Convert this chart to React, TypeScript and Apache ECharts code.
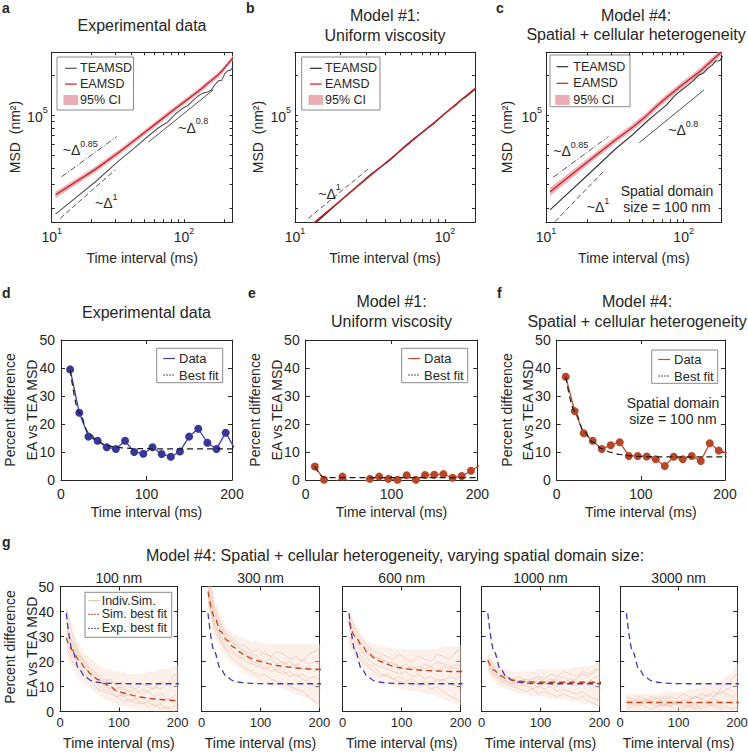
import React, { useEffect, useRef } from "react";
import * as echarts from "echarts";

const FONT = '"Liberation Sans", Arial, Helvetica, sans-serif';
const INK = "#262626";

// ---------- time grids (ms)
const tMSD = [10.7, 21.4, 32.1, 42.8, 53.5, 64.2, 74.9, 85.6, 96.3, 107.0, 117.7, 128.4, 139.1, 149.8, 160.5, 171.2, 181.9, 192.6, 203.3, 214.0, 224.7, 235.4];
const tPct = [10.7, 21.4, 32.1, 42.8, 53.5, 64.2, 74.9, 85.6, 96.3, 107.0, 117.7, 128.4, 139.1, 149.8, 160.5, 171.2, 181.9, 192.6, 203.3];

// ---------- panel a: experimental MSD (nm^2)
const eaA = [25100, 39000, 52200, 65000, 77300, 89100, 100500, 111200, 121600, 131500, 141300, 151000, 160700, 171400, 181100, 191000, 200900, 212800, 227000, 241000, 255300, 269800];
const ciLoA = [23700, 37100, 49800, 62100, 73900, 85200, 96100, 106300, 116300, 125700, 135100, 144400, 153600, 163900, 173100, 182600, 192100, 203400, 217000, 230400, 244100, 257900];
const ciHiA = [26500, 40900, 54700, 68100, 80900, 93300, 105200, 116400, 127300, 137700, 147900, 158100, 168300, 179500, 189600, 200000, 210300, 222800, 237700, 252300, 267300, 282500];
const teaA = [17990, 31480, 45190, 57020, 69180, 80170, 88100, 101200, 111200, 117800, 129100, 139300, 145900, 148300, 153100, 168700, 180700, 182000, 204200, 214800, 217300, 229600];

// ---------- panel b: model #1
const eaB = [12560, 24100, 35320, 46170, 57020, 67760, 78340, 88510, 99080, 109400, 119700, 130000, 140000, 150300, 160000];
const ciLoB = [12370, 23740, 34790, 45480, 56160, 66740, 77160, 87180, 97590, 107800, 117900, 128100, 137900, 148000, 157600];
const ciHiB = [12750, 24460, 35850, 46860, 57880, 68780, 79520, 89840, 100600, 111000, 121500, 132000, 142100, 152600, 162400];
const teaB = [11980, 24100, 35850, 45620, 57700, 68300, 78060, 87450, 98720, 109300, 118300, 130000, 137800, 147700, 157000];

// ---------- panel c: model #4
const eaC = [26420, 46880, 65010, 81280, 98400, 117200, 134600, 150700, 166700, 180700, 194500, 208400, 223900, 240400, 256400, 272300, 288400, 304800];
const ciLoC = [24570, 44300, 61430, 76810, 92990, 110800, 127200, 142400, 157500, 170800, 183800, 196900, 211600, 227200, 242300, 257300, 272500, 288000];
const ciHiC = [28400, 49600, 68780, 85990, 104100, 124000, 142400, 159400, 176400, 191200, 205800, 220500, 236900, 254300, 271300, 288100, 305100, 322500];
const teaC = [19320, 37580, 55720, 71290, 88510, 104200, 118600, 138700, 153500, 166700, 181100, 198600, 206500, 223900, 236000, 254700, 255300, 276100];

// guide lines [t, MSD]
const guideA085 = [[11.9, 34360], [31.0, 68710]];
const guideA1 = [[11.6, 16710], [30.1, 38550]];
const guideA08 = [[53.7, 62400], [166.3, 154200]];
const guideB1 = [[12.3, 16700], [31.1, 39700]];
const guideC085 = [[11.3, 34040], [28.4, 68710]];
const guideC1 = [[11.6, 15780], [26.1, 37500]];
const guideC08 = [[47.6, 61940], [140.6, 154200]];

// ---------- panels d/e/f: percent difference
const pctExp = [39.5, 24.0, 15.5, 14.0, 11.7, 11.1, 14.0, 10.0, 9.4, 11.7, 9.3, 8.3, 10.2, 15.5, 18.3, 13.3, 11.1, 16.9, 11.2];
const fitExp = [39.3, 24.0, 17.0, 13.8, 12.3, 11.7, 11.4, 11.25, 11.2, 11.15, 11.1, 11.1, 11.1, 11.1, 11.1, 11.1, 11.1, 11.1, 11.1];
const pctM1 = [4.8, 0.1, -1.5, 1.2, -1.4, -1.0, 0.4, 1.2, 0.4, 0.1, 1.7, 0.1, 1.8, 1.9, 2.1, 0.8, 1.4, 3.3, 5.3];
const fitM1 = [4.8, 0.9, 0.84, 0.83, 0.83, 0.83, 0.83, 0.83, 0.83, 0.83, 0.83, 0.83, 0.83, 0.83, 0.83, 0.83, 0.83, 0.83, 0.83];
const pctM4 = [36.9, 24.6, 16.7, 14.0, 11.1, 12.4, 13.5, 8.6, 8.6, 8.4, 7.4, 5.0, 8.3, 7.4, 8.6, 6.8, 13.1, 10.5, 9.6];
const fitM4 = [36.9, 24.6, 17.5, 13.5, 11.2, 9.9, 9.1, 8.7, 8.45, 8.35, 8.3, 8.25, 8.25, 8.25, 8.25, 8.25, 8.25, 8.25, 8.25];

// ---------- panel g: varying spatial domain size
const domainSizes = ["100 nm", "300 nm", "600 nm", "1000 nm", "3000 nm"];
const simFit100 = [29.5, 24.5, 20.5, 17.3, 14.8, 12.8, 11.2, 9.9, 8.3, 7.5, 6.8, 6.2, 5.7, 5.3, 5.0, 4.8, 4.6, 4.4, 4.3];
const simFit300 = [48, 38, 32, 28.5, 25.8, 23.8, 22.3, 21.1, 20.2, 19.5, 18.9, 18.4, 18.0, 17.7, 17.4, 17.2, 17.0, 16.9, 16.8];
const simFit600 = [36, 30, 26.5, 23.5, 21.5, 20.0, 18.9, 18.1, 17.5, 17.1, 16.8, 16.6, 16.4, 16.3, 16.2, 16.1, 16.0, 16.0, 16.0];
const simFit1000 = [20.5, 16.5, 14.3, 13.1, 12.5, 12.1, 11.9, 11.8, 11.7, 11.7, 11.7, 11.7, 11.7, 11.7, 11.7, 11.7, 11.7, 11.7, 11.7];
const simFit3000 = [3.7, 3.6, 3.6, 3.6, 3.6, 3.6, 3.6, 3.6, 3.6, 3.6, 3.6, 3.6, 3.6, 3.6, 3.6, 3.6, 3.6, 3.6, 3.6];

const sims100 = [
  [41, 30, 24, 19, 17, 15, 13, 12, 11, 12, 10, 9, 11, 10, 9, 12, 11, 14, 16],
  [34, 27, 21, 18, 14, 13, 10, 9, 8, 6, 7, 5, 6, 4, 5, 3, 5, 4, 6],
  [28, 22, 19, 15, 13, 11, 9, 8, 6, 7, 4, 5, 3, 4, 2, 3, 1, 2, 3],
  [37, 25, 22, 20, 16, 14, 12, 13, 10, 9, 8, 9, 7, 8, 6, 7, 5, 6, 8],
  [26, 20, 17, 14, 12, 9, 8, 7, 6, 4, 5, 3, 4, 2, 3, 1, 2, 0, 1],
  [32, 28, 23, 17, 15, 13, 12, 10, 9, 10, 8, 7, 9, 8, 10, 9, 11, 12, 14],
];
const bandLo100 = [22, 17, 13, 11, 9, 7, 5, 4, 3, 2, 1.5, 1, 1, 0.5, 0, 0, 0, 0, 0];
const bandHi100 = [43, 33, 27, 23, 21, 19, 17, 17, 16, 16, 15, 15, 15, 16, 16, 17, 17, 18, 19];

const sims300 = [
  [55, 42, 35, 31, 29, 27, 26, 24, 25, 23, 22, 24, 23, 21, 22, 20, 23, 24, 26],
  [50, 36, 30, 27, 24, 22, 20, 19, 18, 17, 18, 16, 15, 16, 14, 15, 13, 14, 12],
  [46, 33, 28, 24, 21, 19, 17, 16, 14, 15, 13, 12, 11, 10, 9, 8, 6, 4, 2],
  [53, 40, 34, 30, 27, 26, 23, 22, 21, 20, 21, 19, 20, 18, 19, 17, 18, 16, 17],
  [49, 38, 33, 29, 28, 25, 24, 23, 22, 24, 22, 21, 19, 20, 18, 21, 19, 20, 18],
  [44, 35, 29, 25, 23, 21, 22, 20, 19, 18, 16, 17, 16, 14, 15, 13, 12, 10, 9],
];
const bandLo300 = [42, 31, 25, 21, 19, 17, 15, 14, 12, 11, 10, 10, 9, 8, 7, 6, 5, 3, 1];
const bandHi300 = [56, 45, 38, 34, 31, 30, 29, 28, 28, 27, 27, 27, 27, 27, 27, 27, 27, 27, 27];

const sims600 = [
  [39, 33, 29, 26, 24, 23, 22, 21, 23, 21, 20, 22, 21, 20, 23, 22, 21, 24, 25],
  [33, 27, 24, 21, 19, 18, 17, 16, 15, 16, 14, 15, 13, 14, 12, 13, 11, 10, 8],
  [30, 25, 22, 19, 18, 15, 14, 13, 12, 11, 12, 10, 11, 9, 10, 8, 6, 5, 3],
  [37, 31, 27, 25, 22, 21, 20, 19, 18, 19, 17, 18, 17, 18, 16, 18, 17, 19, 18],
  [35, 29, 25, 23, 21, 22, 19, 20, 18, 17, 18, 17, 19, 18, 20, 19, 18, 17, 19],
  [28, 24, 20, 18, 16, 14, 15, 13, 14, 12, 13, 11, 12, 11, 13, 12, 14, 13, 15],
];
const bandLo600 = [26, 21, 18, 15, 13, 12, 11, 10, 9, 9, 8, 8, 7, 7, 6, 5, 4, 3, 2];
const bandHi600 = [40, 35, 31, 28, 27, 26, 26, 25, 25, 25, 25, 25, 25, 25, 25, 26, 26, 26, 27];

const sims1000 = [
  [22, 18, 16, 14, 13, 14, 12, 13, 14, 13, 15, 14, 16, 15, 14, 16, 15, 17, 16],
  [19, 15, 13, 12, 11, 10, 11, 9, 10, 9, 10, 8, 9, 8, 7, 8, 6, 5, 4],
  [17, 14, 12, 11, 10, 9, 8, 9, 7, 8, 7, 6, 7, 6, 5, 6, 4, 3, 2],
  [21, 17, 15, 14, 13, 12, 13, 12, 11, 12, 13, 12, 11, 13, 12, 11, 12, 14, 13],
  [20, 16, 14, 13, 12, 11, 12, 11, 13, 12, 11, 10, 12, 11, 10, 12, 11, 10, 9],
  [18, 15, 13, 12, 11, 12, 10, 11, 10, 11, 12, 13, 14, 12, 13, 15, 14, 16, 18],
];
const bandLo1000 = [15, 12, 10, 9, 8, 7, 7, 6, 6, 6, 5, 5, 5, 4, 4, 3, 3, 2, 2];
const bandHi1000 = [23, 20, 18, 17, 16, 16, 16, 16, 17, 17, 17, 17, 17, 17, 18, 18, 18, 19, 20];

const sims3000 = [
  [4, 3, 5, 4, 6, 5, 4, 6, 5, 7, 6, 5, 7, 6, 8, 7, 9, 10, 12],
  [2, 3, 2, 4, 3, 2, 3, 2, 4, 3, 2, 3, 1, 2, 3, 2, 4, 3, 5],
  [6, 5, 4, 3, 5, 4, 6, 5, 3, 4, 5, 6, 5, 7, 6, 8, 7, 6, 8],
  [1, 2, 3, 2, 1, 2, 3, 2, 3, 1, 2, 1, 2, 3, 2, 1, 2, 1, 2],
  [3, 4, 3, 5, 4, 3, 2, 4, 3, 5, 4, 6, 5, 4, 6, 9, 11, 13, 16],
  [5, 4, 6, 5, 4, 6, 5, 3, 4, 2, 3, 2, 4, 3, 5, 4, 3, 5, 4],
];
const bandLo3000 = [0, 0, 0, 0, 0, 0, 0, 0, 0, 0, 0, 0, 0, 0, 0, 0, 0, 0, 0];
const bandHi3000 = [7, 7, 7, 7, 7, 7, 8, 8, 8, 8, 9, 9, 10, 10, 11, 12, 14, 16, 20];

// axis definitions
const msdXTicks = [10, 20, 30, 40, 50, 60, 70, 80, 90, 100, 200];
const msdXLabels = [10, 100];
const msdYTicks = [20000, 30000, 40000, 50000, 60000, 70000, 80000, 90000, 100000, 200000];
const msdYLabels = [100000];
const msdYRange = [15600, 295800];
const msdXMax = [233.5, 158.5, 189];

// ---------- colours
const RED = "#cc1f24";
const PINK = "#e49aa3";
const BLUE = "#37379c";
const ORANGE = "#bf4d2a";
const PEACH = "#e6a688";
const SIMFIT = "#c0461c";
const EXPFIT = "#3a3ab8";

const L = (v: number) => Math.log10(v);

// ---------- layout (pixels)
const GRIDS = [
  { left: 51.7, top: 52.3, width: 181, height: 170 },
  { left: 295, top: 52.3, width: 180, height: 170 },
  { left: 546, top: 52.3, width: 175.7, height: 170 },
  { left: 61, top: 340, width: 171, height: 140 },
  { left: 305.7, top: 340, width: 171.6, height: 140 },
  { left: 556.7, top: 340, width: 168.3, height: 140 },
  { left: 60, top: 586.5, width: 117.7, height: 125 },
  { left: 201.7, top: 586.5, width: 117.6, height: 125 },
  { left: 342.7, top: 586.5, width: 118, height: 125 },
  { left: 481.5, top: 586.5, width: 118, height: 125 },
  { left: 620.2, top: 586.5, width: 116.8, height: 125 },
];

const supRich = {
  b: { fontSize: 14, lineHeight: 18, verticalAlign: "bottom", fontFamily: FONT, color: INK, fill: INK },
  s: { fontSize: 9, lineHeight: 18, verticalAlign: "top", fontFamily: FONT, color: INK, fill: INK },
};

function baseAxis(gi: number, pos: string, min: number, max: number) {
  return {
    type: "value",
    gridIndex: gi,
    position: pos,
    min,
    max,
    splitLine: { show: false },
    axisLine: { show: true, onZero: false, lineStyle: { color: INK, width: 1 } },
    axisTick: { show: true, inside: true, length: 4, lineStyle: { color: INK, width: 1 } },
    axisLabel: { show: false },
  };
}

function logAxes(gi: number, xmax: number) {
  const xt = msdXTicks.map(L);
  const yt = msdYTicks.map(L);
  const xs = [
    {
      ...baseAxis(gi, "bottom", 1, L(xmax)),
      axisTick: { show: true, inside: true, length: 3, customValues: xt, lineStyle: { color: INK } },
      axisLabel: {
        show: true,
        customValues: msdXLabels.map(L),
        margin: 4,
        formatter: (v: number) => `{b|10}{s|${Math.round(v)}}`,
        rich: supRich,
      },
    },
    { ...baseAxis(gi, "top", 1, L(xmax)), axisTick: { show: true, inside: true, length: 3, customValues: xt, lineStyle: { color: INK } } },
  ];
  const ys = [
    {
      ...baseAxis(gi, "left", L(msdYRange[0]), L(msdYRange[1])),
      axisTick: { show: true, inside: true, length: 3, customValues: yt, lineStyle: { color: INK } },
      axisLabel: {
        show: true,
        customValues: msdYLabels.map(L),
        margin: 4,
        formatter: (v: number) => `{b|10}{s|${Math.round(v)}}`,
        rich: supRich,
      },
    },
    { ...baseAxis(gi, "right", L(msdYRange[0]), L(msdYRange[1])), axisTick: { show: true, inside: true, length: 3, customValues: yt, lineStyle: { color: INK } } },
  ];
  return { xs, ys };
}

function pctAxes(gi: number, yLabels: boolean, xMargin: number, size: number) {
  const lab = { show: true, fontSize: size, fontFamily: FONT, color: INK };
  const xs = [
    { ...baseAxis(gi, "bottom", 0, 200), interval: 100, axisLabel: { ...lab, margin: xMargin } },
    { ...baseAxis(gi, "top", 0, 200), interval: 100 },
  ];
  const ys = [
    { ...baseAxis(gi, "left", 0, 50), interval: 10, axisLabel: yLabels ? { ...lab, fontSize: 14, margin: 6 } : { show: false } },
    { ...baseAxis(gi, "right", 0, 50), interval: 10 },
  ];
  return { xs, ys };
}

function lineS(gi: number, data: any[], color: string, width: number, extra: any = {}) {
  return {
    type: "line",
    xAxisIndex: 2 * gi,
    yAxisIndex: 2 * gi,
    data,
    symbol: "none",
    showSymbol: false,
    clip: true,
    silent: true,
    lineStyle: { color, width, ...(extra.lineStyle || {}) },
    itemStyle: { color },
    z: extra.z ?? 3,
    ...(extra.smooth ? { smooth: extra.smooth, smoothMonotone: "x" } : {}),
  };
}

function bandS(gi: number, xs: number[], lo: number[], hi: number[], color: string, opacity: number, z = 1) {
  return {
    type: "custom",
    xAxisIndex: 2 * gi,
    yAxisIndex: 2 * gi,
    clip: true,
    silent: true,
    z,
    data: [[xs[0], lo[0]]],
    renderItem: (_p: any, api: any) => {
      const pts: number[][] = [];
      for (let i = 0; i < xs.length; i++) pts.push(api.coord([xs[i], hi[i]]));
      for (let i = xs.length - 1; i >= 0; i--) pts.push(api.coord([xs[i], lo[i]]));
      return { type: "polygon", shape: { points: pts }, style: { fill: color, opacity } };
    },
  };
}

const logPairs = (ts: number[], vs: number[]) => vs.map((v, i) => [L(ts[i]), L(v)]);
const logGuide = (g: number[][]) => g.map((p) => [L(p[0]), L(p[1])]);
const pairs = (ts: number[], vs: number[]) => vs.map((v, i) => [ts[i], v]);

// ---------- graphic helpers
function txt(x: number, y: number, text: string, size = 16, extra: any = {}) {
  return {
    type: "text",
    x,
    y,
    z: 100,
    silent: true,
    rotation: extra.rotation || 0,
    style: {
      text,
      fontSize: size,
      fontFamily: FONT,
      fontWeight: extra.bold ? "bold" : "normal",
      fill: INK,
      align: extra.align || "center",
      verticalAlign: "middle",
    },
  };
}
function supTxt(x: number, y: number, base: string, sup: string) {
  return {
    type: "text",
    x,
    y,
    z: 100,
    silent: true,
    style: { text: `{b|${base}}{s|${sup}}`, fontFamily: FONT, fill: INK, align: "left", verticalAlign: "middle", rich: supRich },
  };
}
type Row = { y: number; label: string; kind: "line" | "patch"; color: string; dash?: number[]; width?: number; opacity?: number };
function legend(x0: number, y0: number, x1: number, y1: number, sx0: number, sx1: number, tx: number, size: number, rows: Row[]) {
  const children: any[] = [
    { type: "rect", shape: { x: x0, y: y0, width: x1 - x0, height: y1 - y0 }, style: { fill: "#fff", stroke: "#8a8a8a", lineWidth: 1 } },
  ];
  rows.forEach((r) => {
    if (r.kind === "patch") {
      children.push({ type: "rect", shape: { x: sx0 - 1.5, y: r.y - 5, width: sx1 - sx0 + 3, height: 10 }, style: { fill: r.color, opacity: r.opacity ?? 1 } });
    } else {
      children.push({
        type: "line",
        shape: { x1: sx0, y1: r.y, x2: sx1, y2: r.y },
        style: { stroke: r.color, lineWidth: r.width || 1.2, lineDash: r.dash || null, opacity: r.opacity ?? 1 },
      });
    }
    children.push({
      type: "text",
      x: tx,
      y: r.y,
      style: { text: r.label, fontSize: size, fontFamily: FONT, fill: INK, align: "left", verticalAlign: "middle" },
    });
  });
  return { type: "group", z: 100, silent: true, children };
}

function buildOption() {
  const xAxis: any[] = [];
  const yAxis: any[] = [];
  const series: any[] = [];

  // ---- log panels a, b, c
  for (let i = 0; i < 3; i++) {
    const { xs, ys } = logAxes(i, msdXMax[i]);
    xAxis.push(...xs);
    yAxis.push(...ys);
  }
  const tA = tMSD.slice(0, eaA.length);
  const tB = tMSD.slice(0, eaB.length);
  const tC = tMSD.slice(0, eaC.length);
  const lxA = tA.map(L), lxB = tB.map(L), lxC = tC.map(L);
  series.push(bandS(0, lxA, ciLoA.map(L), ciHiA.map(L), PINK, 0.75));
  series.push(lineS(0, logPairs(tA, teaA), "#555555", 1.1));
  series.push(lineS(0, logPairs(tA, eaA), RED, 1.3, { z: 4 }));
  series.push(lineS(0, logGuide(guideA085), INK, 0.8, { lineStyle: { type: [6, 2, 1, 2] } }));
  series.push(lineS(0, logGuide(guideA1), INK, 0.8, { lineStyle: { type: [5, 3] } }));
  series.push(lineS(0, logGuide(guideA08), INK, 0.8));

  series.push(bandS(1, lxB, ciLoB.map(L), ciHiB.map(L), PINK, 0.75));
  series.push(lineS(1, logPairs(tB, teaB), "#222222", 1.1));
  series.push(lineS(1, logPairs(tB, eaB), RED, 1.3, { z: 4 }));
  series.push(lineS(1, logGuide(guideB1), INK, 0.8, { lineStyle: { type: [5, 3] } }));

  series.push(bandS(2, lxC, ciLoC.map(L), ciHiC.map(L), PINK, 0.75));
  series.push(lineS(2, logPairs(tC, teaC), "#333333", 1.1));
  series.push(lineS(2, logPairs(tC, eaC), RED, 1.3, { z: 4 }));
  series.push(lineS(2, logGuide(guideC085), INK, 0.8, { lineStyle: { type: [6, 2, 1, 2] } }));
  series.push(lineS(2, logGuide(guideC1), INK, 0.8, { lineStyle: { type: [5, 3] } }));
  series.push(lineS(2, logGuide(guideC08), INK, 0.8));

  // ---- percent panels d, e, f
  for (let i = 3; i < 6; i++) {
    const { xs, ys } = pctAxes(i, true, 7, 14);
    xAxis.push(...xs);
    yAxis.push(...ys);
  }
  const pctSets = [
    { gi: 3, data: pctExp, fit: fitExp, line: "#4040a8", dot: BLUE },
    { gi: 4, data: pctM1, fit: fitM1, line: ORANGE, dot: "#b8472a" },
    { gi: 5, data: pctM4, fit: fitM4, line: ORANGE, dot: "#b8472a" },
  ];
  pctSets.forEach((p) => {
    series.push({
      type: "line",
      xAxisIndex: 2 * p.gi,
      yAxisIndex: 2 * p.gi,
      data: pairs(tPct, p.data),
      symbol: "circle",
      symbolSize: 8,
      showSymbol: true,
      clip: true,
      silent: true,
      lineStyle: { color: p.line, width: 1.3 },
      itemStyle: { color: p.dot, borderWidth: 0 },
      z: 3,
    });
    series.push(lineS(p.gi, pairs(tPct, p.fit), "#1a1a1a", 1.2, { lineStyle: { type: [6, 4] }, smooth: 0.35, z: 4 }));
  });

  // ---- g small multiples
  const gSets = [
    { sims: sims100, lo: bandLo100, hi: bandHi100, fit: simFit100 },
    { sims: sims300, lo: bandLo300, hi: bandHi300, fit: simFit300 },
    { sims: sims600, lo: bandLo600, hi: bandHi600, fit: simFit600 },
    { sims: sims1000, lo: bandLo1000, hi: bandHi1000, fit: simFit1000 },
    { sims: sims3000, lo: bandLo3000, hi: bandHi3000, fit: simFit3000 },
  ];
  gSets.forEach((g, j) => {
    const gi = 6 + j;
    const { xs, ys } = pctAxes(gi, j === 0, 4, 13);
    xAxis.push(...xs);
    yAxis.push(...ys);
    series.push(bandS(gi, tPct, g.lo, g.hi, "#f7ddd0", 0.45));
    g.sims.forEach((s) => series.push(lineS(gi, pairs(tPct, s), PEACH, 0.7, { lineStyle: { opacity: 0.55 }, z: 2 })));
    series.push(lineS(gi, pairs(tPct, fitExp), EXPFIT, 1.3, { lineStyle: { type: [6, 4] }, smooth: 0.35, z: 4 }));
    series.push(lineS(gi, pairs(tPct, g.fit), SIMFIT, 1.3, { lineStyle: { type: [6, 4] }, smooth: 0.35, z: 5 }));
  });

  // ---- graphic texts
  const g: any[] = [];
  // panel letters
  g.push(txt(2, 8, "a", 14, { bold: true, align: "left" }));
  g.push(txt(246, 8, "b", 14, { bold: true, align: "left" }));
  g.push(txt(496, 8, "c", 14, { bold: true, align: "left" }));
  g.push(txt(2, 293, "d", 14, { bold: true, align: "left" }));
  g.push(txt(248, 293, "e", 14, { bold: true, align: "left" }));
  g.push(txt(497, 293, "f", 14, { bold: true, align: "left" }));
  g.push(txt(2, 542, "g", 14, { bold: true, align: "left" }));

  // titles row 1
  g.push(txt(142, 25, "Experimental data"));
  g.push(txt(385, 15, "Model #1:"));
  g.push(txt(385, 35, "Uniform viscosity"));
  g.push(txt(636, 15, "Model #4:"));
  g.push(txt(636, 34, "Spatial + cellular heterogeneity"));
  // titles row 2
  g.push(txt(146.5, 312, "Experimental data"));
  g.push(txt(391.5, 301, "Model #1:"));
  g.push(txt(391.5, 321, "Uniform viscosity"));
  g.push(txt(637, 301, "Model #4:"));
  g.push(txt(637, 321, "Spatial + cellular heterogeneity"));
  // g title + subtitles
  g.push(txt(395, 555, "Model #4: Spatial + cellular heterogeneity, varying spatial domain size:"));
  domainSizes.forEach((s, j) => {
    const gr = GRIDS[6 + j];
    g.push(txt(gr.left + gr.width / 2, 578, s, 14));
    g.push(txt(gr.left + gr.width / 2, 743, "Time interval (ms)", 14));
  });

  // axis names row 1
  [0, 1, 2].forEach((i) => {
    const gr = GRIDS[i];
    g.push(txt(gr.left + gr.width / 2, 258, "Time interval (ms)", 14));
  });
  g.push(txt(15, 137, "MSD  (nm²)", 14, { rotation: Math.PI / 2 }));
  g.push(txt(258, 137, "MSD  (nm²)", 14, { rotation: Math.PI / 2 }));
  g.push(txt(507, 137, "MSD  (nm²)", 14, { rotation: Math.PI / 2 }));
  // axis names row 2
  [3, 4, 5].forEach((i) => {
    const gr = GRIDS[i];
    g.push(txt(gr.left + gr.width / 2, 512, "Time interval (ms)", 14));
  });
  [
    [10, 31.7, 410],
    [255, 276.7, 410],
    [506.7, 528.3, 410],
    [10, 31.7, 647],
  ].forEach(([x1, x2, y]) => {
    g.push(txt(x1, y, "Percent difference", 14, { rotation: Math.PI / 2 }));
    g.push(txt(x2, y, "EA vs TEA MSD", 14, { rotation: Math.PI / 2 }));
  });

  // power-law annotations
  g.push(supTxt(62.7, 148, "~Δ", "0.85"));
  g.push(supTxt(95, 201, "~Δ", "1"));
  g.push(supTxt(178.3, 125.5, "~Δ", "0.8"));
  g.push(supTxt(318.3, 191.5, "~Δ", "1"));
  g.push(supTxt(553.3, 149, "~Δ", "0.85"));
  g.push(supTxt(586.7, 205, "~Δ", "1"));
  g.push(supTxt(668.3, 128, "~Δ", "0.8"));
  g.push(txt(667, 191, "Spatial domain", 14));
  g.push(txt(667, 206.5, "size = 100 nm", 14));
  g.push(txt(673, 403, "Spatial domain", 14));
  g.push(txt(673, 419.3, "size = 100 nm", 14));

  // legends
  const msdRows = (y0: number, dy: number, tea: string): Row[] => [
    { y: y0, label: "TEAMSD", kind: "line", color: tea },
    { y: y0 + dy, label: "EAMSD", kind: "line", color: RED },
    { y: y0 + 2 * dy, label: "95% CI", kind: "patch", color: PINK, opacity: 0.8 },
  ];
  g.push(legend(57, 57, 133.5, 110, 65, 76.7, 80, 12.5, msdRows(68.3, 15.8, "#555555")));
  g.push(legend(301.7, 57, 380, 110, 310, 321.7, 325, 12.5, msdRows(68.3, 15.8, "#222222")));
  g.push(legend(550, 55, 630, 106.7, 556.7, 568.3, 573.3, 12.5, msdRows(66.7, 16.6, "#333333")));
  const pctRows = (y0: number, color: string): Row[] => [
    { y: y0, label: "Data", kind: "line", color },
    { y: y0 + 16.5, label: "Best fit", kind: "line", color: "#1a1a1a", dash: [1.5, 1.5] },
  ];
  g.push(legend(156.7, 348.3, 222.7, 382.7, 163.3, 175, 179, 13, pctRows(358.5, "#4040a8")));
  g.push(legend(401.7, 348.3, 467.7, 382.7, 408.3, 420, 424, 13, pctRows(358.5, ORANGE)));
  g.push(legend(651.7, 350, 717.7, 383.3, 658.3, 670, 674, 13, pctRows(359.5, ORANGE)));
  g.push(
    legend(85, 592.3, 171.7, 637.3, 88.3, 100, 101.7, 12.5, [
      { y: 600.7, label: "Indiv.Sim.", kind: "line", color: PEACH, opacity: 0.7 },
      { y: 614.3, label: "Sim. best fit", kind: "line", color: SIMFIT, dash: [1.5, 1.5] },
      { y: 628.3, label: "Exp. best fit", kind: "line", color: EXPFIT, dash: [1.5, 1.5] },
    ])
  );

  return {
    animation: false,
    backgroundColor: "#ffffff",
    textStyle: { fontFamily: FONT },
    grid: GRIDS.map((gr) => ({ ...gr, show: false, containLabel: false, outerBoundsMode: "none" })),
    xAxis,
    yAxis,
    series,
    graphic: { elements: g },
  };
}

export default function App() {
  const ref = useRef<HTMLDivElement>(null);
  useEffect(() => {
    if (!ref.current) return;
    const chart = echarts.init(ref.current, null, { renderer: "svg" });
    chart.setOption(buildOption());
    return () => chart.dispose();
  }, []);
  return (
    <div
      ref={ref}
      style={{ position: "fixed", left: 0, top: 0, width: 748, height: 753, background: "#fff" }}
    />
  );
}
